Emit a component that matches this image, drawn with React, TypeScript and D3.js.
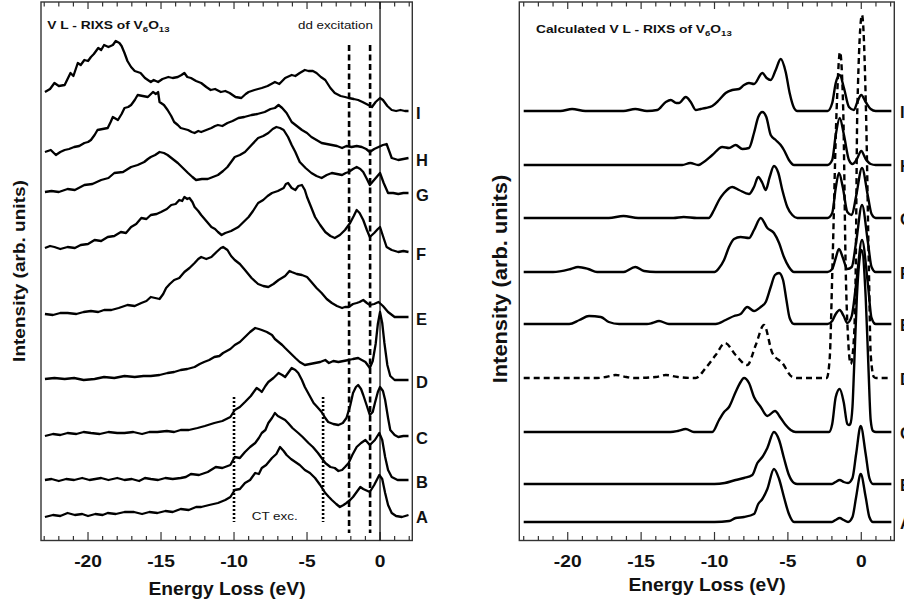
import React from "react";
import * as d3 from "d3";

type Pt = [number, number];

// ---------- tick values ----------
const majorTicks = [-20, -15, -10, -5, 0];
const minorTicks = [-23, -22, -21, -19, -18, -17, -16, -14, -13, -12, -11, -9, -8, -7, -6, -4, -3, -2, -1, 1, 2];
const curveLabels = ["A", "B", "C", "D", "E", "F", "G", "H", "I"];

// ---------- experimental spectra (left), [energy loss eV, intensity above own baseline] ----------
const expOffsets = [23, 60, 104, 161, 226, 292, 348, 388, 448];

const expA: Pt[] = [[-22.95,0],[-22.4,2],[-21.9,1],[-21.4,4],[-20.9,2],[-20.4,3],[-20.0,1],[-19.5,3],[-19.0,2],[-18.65,4],[-18.1,3],[-17.5,5],[-16.85,5],[-16.3,3],[-15.8,5],[-15.25,4],[-14.7,6],[-14.2,5],[-13.65,8],[-13.1,7],[-12.6,10],[-12.25,10],[-11.7,12],[-11.1,14],[-10.6,17],[-10.25,20],[-9.95,27],[-9.6,28],[-9.25,34],[-8.9,37],[-8.55,44],[-8.3,43],[-8.1,49],[-7.8,52],[-7.4,59],[-7.1,63],[-6.85,70],[-6.6,66],[-6.4,62],[-6.1,58],[-5.8,55],[-5.5,52],[-5.15,47],[-4.8,44],[-4.45,39],[-4.1,32],[-3.75,24],[-3.5,20],[-3.3,17],[-3.0,13],[-2.75,10],[-2.5,12],[-2.3,14],[-2.05,17],[-1.85,20],[-1.6,25],[-1.35,30],[-1.15,28],[-1.0,27],[-0.7,25],[-0.4,32],[-0.05,42],[0.15,38],[0.35,24],[0.55,12],[0.8,4],[1.1,1],[1.5,0],[1.95,2]];
const expB: Pt[] = [[-22.95,0],[-22.5,1],[-22.0,-1],[-21.5,1],[-20.95,0],[-20.4,2],[-19.9,0],[-19.5,1],[-19.1,2],[-18.6,0],[-18.0,2],[-17.5,0],[-17.0,1],[-16.5,-1],[-16.1,2],[-15.7,1],[-15.2,0],[-14.7,2],[-14.2,1],[-13.65,2],[-13.3,3],[-12.95,6],[-12.4,5],[-11.8,8],[-11.25,13],[-10.8,12],[-10.25,15],[-9.95,23],[-9.6,22],[-9.25,28],[-8.9,33],[-8.55,37],[-8.3,42],[-8.1,47],[-7.85,50],[-7.65,57],[-7.4,62],[-7.2,67],[-7.0,64],[-6.75,62],[-6.5,60],[-6.3,57],[-6.0,52],[-5.6,47],[-5.3,43],[-4.9,37],[-4.6,33],[-4.25,27],[-4.0,22],[-3.75,17],[-3.4,13],[-3.1,12],[-2.85,9],[-2.6,10],[-2.4,13],[-2.15,17],[-1.9,25],[-1.6,33],[-1.3,37],[-1.0,40],[-0.7,35],[-0.35,40],[-0.05,47],[0.15,40],[0.35,23],[0.55,10],[0.8,3],[1.2,0],[1.5,0],[1.95,0]];
const expC: Pt[] = [[-22.95,0],[-22.4,2],[-21.9,1],[-21.4,3],[-20.8,2],[-20.3,4],[-19.8,3],[-19.2,2],[-18.6,4],[-18.0,3],[-17.5,3],[-16.9,4],[-16.3,2],[-15.8,4],[-15.25,4],[-14.6,5],[-14.1,4],[-13.65,6],[-13.1,6],[-12.5,8],[-12.0,10],[-11.35,13],[-10.8,15],[-10.25,19],[-9.95,26],[-9.6,29],[-9.25,34],[-8.85,40],[-8.45,48],[-8.25,46],[-8.1,44],[-7.85,50],[-7.65,54],[-7.3,58],[-6.95,63],[-6.7,61],[-6.5,59],[-6.25,64],[-6.05,68],[-5.8,66],[-5.6,63],[-5.35,56],[-5.15,49],[-4.85,41],[-4.55,33],[-4.3,29],[-4.0,24],[-3.75,18],[-3.55,14],[-3.2,12],[-2.85,11],[-2.55,13],[-2.3,18],[-2.05,30],[-1.85,43],[-1.65,49],[-1.5,51],[-1.3,47],[-1.15,41],[-0.9,30],[-0.7,21],[-0.5,24],[-0.35,33],[-0.15,44],[0,49],[0.2,45],[0.35,36],[0.55,18],[0.7,6],[1.0,1],[1.25,-1],[1.6,0],[1.95,0]];
const expD: Pt[] = [[-22.95,0],[-22.3,1],[-21.6,0],[-20.95,1],[-20.3,-1],[-19.55,0],[-18.9,2],[-18.2,1],[-17.5,3],[-16.8,2],[-16.2,3],[-15.7,3],[-15.1,4],[-14.55,6],[-14.1,7],[-13.65,9],[-13.2,10],[-12.7,12],[-12.35,15],[-12.05,17],[-11.7,19],[-11.35,22],[-11.0,23],[-10.75,26],[-10.5,28],[-10.25,30],[-9.95,34],[-9.6,37],[-9.25,42],[-8.9,47],[-8.55,51],[-8.3,50],[-8.1,49],[-7.75,47],[-7.4,44],[-7.2,40],[-6.95,37],[-6.7,34],[-6.5,31],[-6.15,26],[-5.8,21],[-5.5,17],[-5.15,14],[-4.8,15],[-4.45,16],[-4.1,17],[-3.75,19],[-3.5,16],[-3.2,18],[-2.85,17],[-2.5,18],[-2.15,19],[-1.85,20],[-1.5,21],[-1.25,19],[-1.0,17],[-0.7,11],[-0.5,18],[-0.3,35],[-0.15,55],[0,67],[0.15,56],[0.3,36],[0.5,14],[0.7,3],[1.0,-1],[1.5,-1],[1.95,-1]];
const expE: Pt[] = [[-22.95,0],[-22.4,-1],[-21.9,1],[-21.4,1],[-20.8,0],[-20.3,2],[-19.8,3],[-19.3,2],[-18.9,4],[-18.4,4],[-17.9,6],[-17.3,9],[-16.8,8],[-16.35,11],[-16.0,13],[-15.7,17],[-15.4,16],[-15.1,15],[-14.85,20],[-14.65,26],[-14.4,30],[-14.1,34],[-13.75,36],[-13.4,42],[-13.05,46],[-12.7,51],[-12.45,55],[-12.25,57],[-11.9,55],[-11.55,57],[-11.2,62],[-10.9,66],[-10.75,67],[-10.45,64],[-10.2,58],[-9.95,54],[-9.6,50],[-9.25,44],[-8.8,36],[-8.35,30],[-8.0,28],[-7.65,27],[-7.3,30],[-6.95,34],[-6.5,38],[-6.2,43],[-6.05,42],[-5.7,40],[-5.35,39],[-5.0,37],[-4.7,32],[-4.35,26],[-4.0,21],[-3.65,15],[-3.3,11],[-2.95,8],[-2.6,6],[-2.4,7],[-2.15,7],[-1.85,10],[-1.6,11],[-1.4,12],[-1.15,14],[-0.9,11],[-0.7,9],[-0.4,10],[-0.1,12],[0.2,8],[0.55,2],[1.0,-3],[1.5,-3],[1.95,-3]];
const expF: Pt[] = [[-22.95,0],[-22.6,2],[-22.3,1],[-21.9,-1],[-21.4,1],[-20.9,0],[-20.5,3],[-20.0,4],[-19.55,8],[-19.1,7],[-18.65,11],[-18.2,12],[-17.75,16],[-17.4,15],[-17.05,21],[-16.7,24],[-16.35,30],[-16.0,29],[-15.7,33],[-15.3,34],[-15.0,36],[-14.6,39],[-14.3,43],[-14.0,44],[-13.75,48],[-13.55,47],[-13.4,51],[-13.2,49],[-13.05,50],[-12.85,46],[-12.7,41],[-12.45,37],[-12.25,33],[-11.9,27],[-11.55,21],[-11.3,19],[-11.1,16],[-10.85,13],[-10.6,15],[-10.2,17],[-9.7,21],[-9.35,26],[-9.0,31],[-8.7,37],[-8.35,45],[-8.0,48],[-7.7,52],[-7.4,55],[-7.0,57],[-6.6,60],[-6.45,64],[-6.3,65],[-6.05,60],[-5.8,58],[-5.6,62],[-5.35,63],[-5.15,58],[-5.0,51],[-4.75,42],[-4.45,31],[-4.1,23],[-3.75,16],[-3.4,12],[-3.1,10],[-2.75,13],[-2.4,18],[-2.05,25],[-1.8,32],[-1.6,38],[-1.4,35],[-1.15,28],[-0.9,18],[-0.7,11],[-0.4,15],[-0.15,19],[0,21],[0.2,12],[0.45,1],[0.8,-2],[1.25,-4],[1.6,-3],[1.95,-4]];
const expG: Pt[] = [[-22.95,0],[-22.5,1],[-22.0,0],[-21.4,3],[-20.9,2],[-20.25,7],[-19.7,8],[-19.1,12],[-18.6,14],[-18.2,19],[-17.6,20],[-17.05,25],[-16.6,27],[-16.15,30],[-15.9,33],[-15.7,35],[-15.4,37],[-15.1,40],[-14.8,39],[-14.55,37],[-14.2,33],[-13.85,29],[-13.5,24],[-13.15,19],[-12.85,15],[-12.6,12],[-12.2,13],[-11.8,13],[-11.45,15],[-11.1,17],[-10.75,21],[-10.45,25],[-10.2,30],[-9.95,35],[-9.6,37],[-9.25,40],[-8.8,47],[-8.35,54],[-8.0,56],[-7.65,59],[-7.35,63],[-7.1,65],[-6.85,64],[-6.6,62],[-6.3,55],[-6.05,47],[-5.8,40],[-5.5,30],[-5.1,24],[-4.7,19],[-4.35,16],[-4.0,14],[-3.65,17],[-3.3,19],[-2.95,18],[-2.6,17],[-2.35,19],[-2.15,20],[-1.85,23],[-1.6,25],[-1.35,23],[-1.15,20],[-0.9,13],[-0.7,7],[-0.35,13],[0,19],[0.25,9],[0.55,-1],[0.9,-1],[1.25,-2],[1.6,-1],[1.95,-1]];
const expH: Pt[] = [[-22.95,0],[-22.55,2],[-22.2,-3],[-21.9,0],[-21.6,2],[-21.3,3],[-20.95,5],[-20.6,6],[-20.25,9],[-20.0,10],[-19.8,12],[-19.55,17],[-19.35,22],[-19.0,23],[-18.65,24],[-18.45,30],[-18.3,35],[-17.95,32],[-17.7,38],[-17.5,44],[-17.25,45],[-17.05,47],[-16.8,52],[-16.6,57],[-16.25,56],[-15.9,55],[-15.55,60],[-15.35,58],[-15.2,60],[-15.1,50],[-14.8,47],[-14.55,42],[-14.3,36],[-14.1,30],[-13.85,27],[-13.65,24],[-13.4,23],[-13.15,22],[-12.9,20],[-12.7,19],[-12.45,21],[-12.25,20],[-11.9,22],[-11.55,24],[-11.3,26],[-11.1,27],[-10.8,26],[-10.45,29],[-10.1,31],[-9.7,34],[-9.3,35],[-8.8,37],[-8.4,38],[-7.9,40],[-7.5,43],[-7.2,44],[-6.95,47],[-6.7,44],[-6.4,39],[-6.05,30],[-5.7,26],[-5.35,22],[-5.0,19],[-4.7,15],[-4.35,12],[-4.0,9],[-3.65,8],[-3.3,7],[-2.95,6],[-2.6,4],[-2.3,6],[-1.95,5],[-1.6,6],[-1.25,5],[-0.95,3],[-0.7,0],[-0.4,3],[-0.1,5],[0.2,7],[0.45,8],[0.6,2],[0.8,-6],[1.25,-8],[1.6,-7],[1.95,-6]];
const expI: Pt[] = [[-22.95,0],[-22.6,3],[-22.3,9],[-22.0,6],[-21.6,7],[-21.4,13],[-21.2,19],[-21.0,16],[-20.7,29],[-20.5,27],[-20.25,32],[-20.0,31],[-19.8,35],[-19.6,38],[-19.3,44],[-19.1,42],[-18.9,47],[-18.6,45],[-18.3,47],[-18.1,51],[-17.85,49],[-17.7,46],[-17.5,39],[-17.3,31],[-17.05,25],[-16.8,21],[-16.4,19],[-16.1,14],[-15.7,10],[-15.5,12],[-15.2,10],[-14.9,13],[-14.5,15],[-14.2,14],[-13.85,15],[-13.6,17],[-13.4,19],[-13.2,15],[-12.95,14],[-12.6,11],[-12.25,9],[-11.9,5],[-11.6,2],[-11.3,3],[-10.9,0],[-10.6,1],[-10.3,-1],[-9.9,-5],[-9.5,-6],[-9.2,-2],[-9.0,0],[-8.6,2],[-8.1,4],[-7.7,6],[-7.2,10],[-6.9,8],[-6.5,14],[-6.05,17],[-5.8,16],[-5.5,19],[-5.15,22],[-4.9,21],[-4.6,21],[-4.35,19],[-4.05,15],[-3.75,12],[-3.4,4],[-3.1,-1],[-2.7,-4],[-2.4,-5],[-2.15,-6],[-1.8,-7],[-1.5,-8],[-1.2,-10],[-0.8,-13],[-0.55,-15],[-0.3,-10],[0.0,-6],[0.2,-8],[0.5,-14],[0.8,-18],[1.1,-19],[1.4,-18],[1.7,-19],[1.95,-19]];
const expSeries = [expA, expB, expC, expD, expE, expF, expG, expH, expI];

// ---------- calculated spectra (right) ----------
const calcOffsets = [18, 56, 108, 162, 216, 268, 322, 375, 429];

const calcA: Pt[] = [[-23,0],[-10,0],[-9.0,1],[-8.56,4],[-7.99,5],[-7.31,8],[-7.02,18],[-6.74,23],[-6.4,33],[-5.95,53],[-5.6,43],[-5.27,25],[-4.93,8],[-4.58,0],[-2.0,0],[-1.75,2],[-1.47,4],[-1.2,2],[-0.9,0],[-0.6,5],[-0.35,25],[-0.04,48],[0.3,25],[0.55,5],[0.8,0],[2.05,0]];
const calcB: Pt[] = [[-23,0],[-10,0],[-9.3,1],[-8.56,4],[-7.99,6],[-7.42,9],[-7.08,21],[-6.74,27],[-6.4,36],[-5.95,52],[-5.6,44],[-5.27,26],[-4.93,9],[-4.58,1],[-4.36,0],[-2.0,0],[-1.75,2],[-1.47,4],[-1.2,2],[-0.9,1],[-0.6,6],[-0.35,30],[-0.04,58],[0.3,30],[0.55,6],[0.8,0],[2.05,0]];
const calcC: Pt[] = [[-23,0],[-13,0],[-12.5,1],[-11.96,3],[-11.4,0],[-10.15,0],[-9.69,12],[-9.35,20],[-9.01,25],[-8.56,40],[-8.22,50],[-7.99,54],[-7.65,49],[-7.31,35],[-6.85,25],[-6.4,16],[-5.88,21],[-5.49,14],[-5.15,7],[-4.81,2],[-4.47,0],[-2.2,0],[-1.98,8],[-1.74,35],[-1.47,43],[-1.2,30],[-0.95,8],[-0.84,7],[-0.75,8],[-0.6,25],[-0.5,60],[-0.3,135],[0.02,182],[0.3,135],[0.5,60],[0.64,12],[0.8,1],[1.0,0],[2.05,0]];
const calcD: Pt[] = [[-23,0],[-18,0],[-17.4,1],[-16.73,3],[-16.0,1],[-15.5,0],[-14.0,1],[-13.32,3],[-12.5,1],[-11.28,0],[-10.6,10],[-9.92,23],[-9.28,35],[-8.56,23],[-7.77,13],[-7.19,33],[-6.63,53],[-6.06,25],[-5.38,15],[-4.7,1],[-4.36,0],[-2.35,0],[-2.15,20],[-1.97,108],[-1.68,268],[-1.45,326],[-1.23,268],[-1.06,108],[-0.9,40],[-0.72,14],[-0.5,40],[-0.38,108],[-0.27,268],[0.05,363],[0.32,268],[0.52,108],[0.64,24],[0.86,1],[1.0,0],[2.05,0]];
const calcE: Pt[] = [[-23,0],[-19.9,0],[-19.2,4],[-18.55,8],[-17.75,7],[-17.2,2],[-16.5,0],[-14.6,0],[-14.24,1],[-13.78,3],[-13.1,0],[-9.92,0],[-9.24,4],[-8.67,8],[-8.22,10],[-7.77,17],[-7.31,13],[-6.85,17],[-6.51,22],[-6.17,37],[-5.88,49],[-5.6,51],[-5.33,44],[-5.1,24],[-4.88,6],[-4.58,0],[-2.3,0],[-1.98,3],[-1.74,10],[-1.47,14],[-1.2,8],[-0.95,1],[-0.65,8],[-0.35,40],[0.05,84],[0.45,40],[0.7,6],[0.98,0],[2.05,0]];
const calcF: Pt[] = [[-23,0],[-21,0],[-19.8,3],[-19.3,5],[-18.6,3],[-18,0],[-16.2,0],[-15.4,5],[-14.8,1],[-14,0],[-10,0],[-9.69,4],[-9.35,12],[-9.01,25],[-8.67,33],[-8.22,35],[-7.65,34],[-7.31,42],[-6.85,54],[-6.4,44],[-5.95,39],[-5.6,29],[-5.27,15],[-4.93,5],[-4.58,0],[-2.3,0],[-1.98,3],[-1.74,14],[-1.52,23],[-1.25,14],[-0.95,3],[-0.65,5],[-0.35,30],[0.05,67],[0.45,30],[0.7,5],[0.98,0],[2.05,0]];
const calcG: Pt[] = [[-23,0],[-19,0],[-17.2,0],[-16.2,2],[-15.2,0],[-12.8,0],[-12.1,1],[-11.2,0],[-10.4,0],[-10.03,8],[-9.69,18],[-9.35,25],[-8.79,31],[-8.33,28],[-7.65,24],[-7.31,31],[-7.02,41],[-6.74,35],[-6.51,28],[-6.24,41],[-5.95,52],[-5.65,45],[-5.38,28],[-5.04,11],[-4.7,3],[-4.36,0],[-2.3,0],[-1.98,5],[-1.74,30],[-1.52,45],[-1.25,30],[-0.95,6],[-0.65,3],[-0.35,22],[0.05,50],[0.45,22],[0.7,4],[0.98,0],[2.05,0]];
const calcH: Pt[] = [[-23,0],[-17,0],[-13,0],[-12.2,0],[-11.65,2],[-11.1,0],[-10.83,2],[-10.15,10],[-9.47,18],[-9.01,17],[-8.56,20],[-8.1,16],[-7.65,17],[-7.31,32],[-7.02,48],[-6.74,53],[-6.47,48],[-6.17,30],[-5.83,25],[-5.49,20],[-5.27,15],[-4.93,5],[-4.58,0],[-2.3,0],[-1.98,5],[-1.74,30],[-1.47,47],[-1.18,30],[-0.84,5],[-0.6,1],[-0.3,6],[0,14],[0.3,6],[0.64,1],[0.98,0],[2.05,0]];
const calcI: Pt[] = [[-23,0],[-20.5,0],[-19.7,2],[-18.8,0],[-16.2,0],[-15.4,2],[-14.6,0],[-13.9,1],[-13.32,9],[-12.98,11],[-12.6,8],[-12.42,8],[-11.96,14],[-11.62,9],[-11.28,1],[-10.94,2],[-10.6,3],[-10.15,5],[-9.69,11],[-9.24,18],[-8.79,21],[-8.33,22],[-7.99,26],[-7.65,28],[-7.31,27],[-6.74,38],[-6.45,33],[-6.17,31],[-5.83,41],[-5.49,52],[-5.15,39],[-4.88,18],[-4.58,3],[-4.36,0],[-2.3,0],[-1.98,8],[-1.74,28],[-1.47,36],[-1.18,23],[-0.84,4],[-0.5,1],[-0.27,9],[0,16],[0.3,9],[0.64,2],[0.98,0],[2.05,0]];
const calcSeries = [calcA, calcB, calcC, calcD, calcE, calcF, calcG, calcH, calcI];
const calcDashed = [false, false, false, true, false, false, false, false, false];

// marker lines (eV)
const ddLines = [-2.12, -0.68];
const ctLines = [-10, -3.9];

const FONT = "'Liberation Sans', Arial, Helvetica, sans-serif";

function SText(props: {
  x: number; y: number; size: number; sx?: number; weight?: string | number;
  anchor?: "start" | "middle" | "end"; rotate?: number; fill?: string; baseline?: string;
  children: React.ReactNode;
}) {
  const { x, y, size, sx = 1, weight = "normal", anchor = "start", rotate, fill = "#111", baseline } = props;
  const tr = `translate(${x},${y})${rotate ? ` rotate(${rotate})` : ""} scale(${sx},1)`;
  return (
    <text transform={tr} fontSize={size} fontWeight={weight} textAnchor={anchor}
      fontFamily={FONT} fill={fill} dominantBaseline={baseline as any}>
      {props.children}
    </text>
  );
}

const yScale = d3.scaleLinear().domain([0, 538]).range([540, 2]);
const TOP = 2;
const BOTTOM = 540.5;

function Frame({ x, left, right }: { x: d3.ScaleLinear<number, number>; left: number; right: number }) {
  return (
    <g>
      <rect x={left} y={TOP} width={right - left} height={BOTTOM - TOP} fill="none" stroke="#333" strokeWidth={1.4} />
      {minorTicks.map((t) => (
        <g key={"m" + t}>
          <line x1={x(t)} x2={x(t)} y1={TOP} y2={TOP + 4.5} stroke="#333" strokeWidth={1.2} />
          <line x1={x(t)} x2={x(t)} y1={BOTTOM} y2={BOTTOM - 4.5} stroke="#333" strokeWidth={1.2} />
        </g>
      ))}
      {majorTicks.map((t) => (
        <g key={"M" + t}>
          <line x1={x(t)} x2={x(t)} y1={TOP} y2={TOP + 7} stroke="#333" strokeWidth={1.2} />
          <line x1={x(t)} x2={x(t)} y1={BOTTOM} y2={BOTTOM - 8.5} stroke="#333" strokeWidth={1.2} />
          <SText x={x(t)} y={566.5} size={16} sx={1.2} weight="bold" anchor="middle">{String(t)}</SText>
        </g>
      ))}
    </g>
  );
}

export default function App() {
  const xL = d3.scaleLinear().domain([-23.22, 2.21]).range([41, 412.3]);
  const xR = d3.scaleLinear().domain([-23.3, 2.25]).range([519.3, 894.3]);

  const lineL = (off: number) =>
    d3.line<Pt>().x((d) => xL(d[0])).y((d) => yScale(off + d[1])).curve(d3.curveLinear);
  const lineR = (off: number) =>
    d3.line<Pt>().x((d) => xR(d[0])).y((d) => yScale(off + d[1])).curve(d3.curveMonotoneX);

  return (
    <svg width={904} height={604} style={{ position: "absolute", left: 0, top: 0, background: "#fff" }}>
      <rect x={0} y={0} width={904} height={604} fill="#fff" />

      {/* ---------- left panel ---------- */}
      <Frame x={xL} left={41} right={412.3} />
      <line x1={xL(0)} x2={xL(0)} y1={TOP} y2={BOTTOM} stroke="#000" strokeWidth={1.2} />
      {ddLines.map((e) => (
        <line key={"dd" + e} x1={xL(e)} x2={xL(e)} y1={45} y2={533} stroke="#000" strokeWidth={2.6} strokeDasharray="6,3.5" />
      ))}
      {ctLines.map((e) => (
        <line key={"ct" + e} x1={xL(e)} x2={xL(e)} y1={397} y2={522} stroke="#000" strokeWidth={2.6} strokeDasharray="2,2" />
      ))}
      {expSeries.map((s, i) => (
        <path key={"e" + i} d={lineL(expOffsets[i])(s) || ""} fill="none" stroke="#000" strokeWidth={2.3} strokeLinejoin="round" />
      ))}
      {expSeries.map((s, i) => (
        <SText key={"el" + i} x={416} y={yScale(expOffsets[i] + s[s.length - 1][1]) + 2} size={16.5} weight="bold" baseline="central">
          {curveLabels[i]}
        </SText>
      ))}
      <SText x={47.3} y={29.3} size={11.5} sx={1.2} weight="bold">
        <tspan>V L - RIXS of V</tspan>
        <tspan fontSize={8} dy={3}>6</tspan>
        <tspan dy={-3}>O</tspan>
        <tspan fontSize={8} dy={3}>13</tspan>
      </SText>
      <SText x={298} y={29.3} size={11.5} sx={1.16}>dd excitation</SText>
      <SText x={251.7} y={520} size={11.5} sx={1.17}>CT exc.</SText>
      <SText x={227} y={595} size={17.5} sx={1.1} weight="bold" anchor="middle">Energy Loss (eV)</SText>
      <SText x={25} y={271} size={17} sx={1.12} weight="bold" anchor="middle" rotate={-90}>Intensity (arb. units)</SText>

      {/* ---------- right panel ---------- */}
      <Frame x={xR} left={519.3} right={894.3} />
      {calcSeries.map((s, i) => (
        <path key={"c" + i} d={lineR(calcOffsets[i])(s) || ""} fill="none" stroke="#000" strokeWidth={2.4}
          strokeLinejoin="round" strokeDasharray={calcDashed[i] ? "6,4" : undefined} />
      ))}
      {calcSeries.map((s, i) => (
        <SText key={"cl" + i} x={900} y={yScale(calcOffsets[i] + s[s.length - 1][1]) + 1} size={16.5} weight="bold" baseline="central">
          {curveLabels[i]}
        </SText>
      ))}
      <SText x={536} y={33.3} size={11.5} sx={1.2} weight="bold">
        <tspan>Calculated V L - RIXS of V</tspan>
        <tspan fontSize={8} dy={3}>6</tspan>
        <tspan dy={-3}>O</tspan>
        <tspan fontSize={8} dy={3}>13</tspan>
      </SText>
      <SText x={707} y={591} size={17.5} sx={1.1} weight="bold" anchor="middle">Energy Loss (eV)</SText>
      <SText x={507} y={279} size={19.5} sx={1.12} weight="bold" anchor="middle" rotate={-90}>Intensity (arb. units)</SText>
    </svg>
  );
}
